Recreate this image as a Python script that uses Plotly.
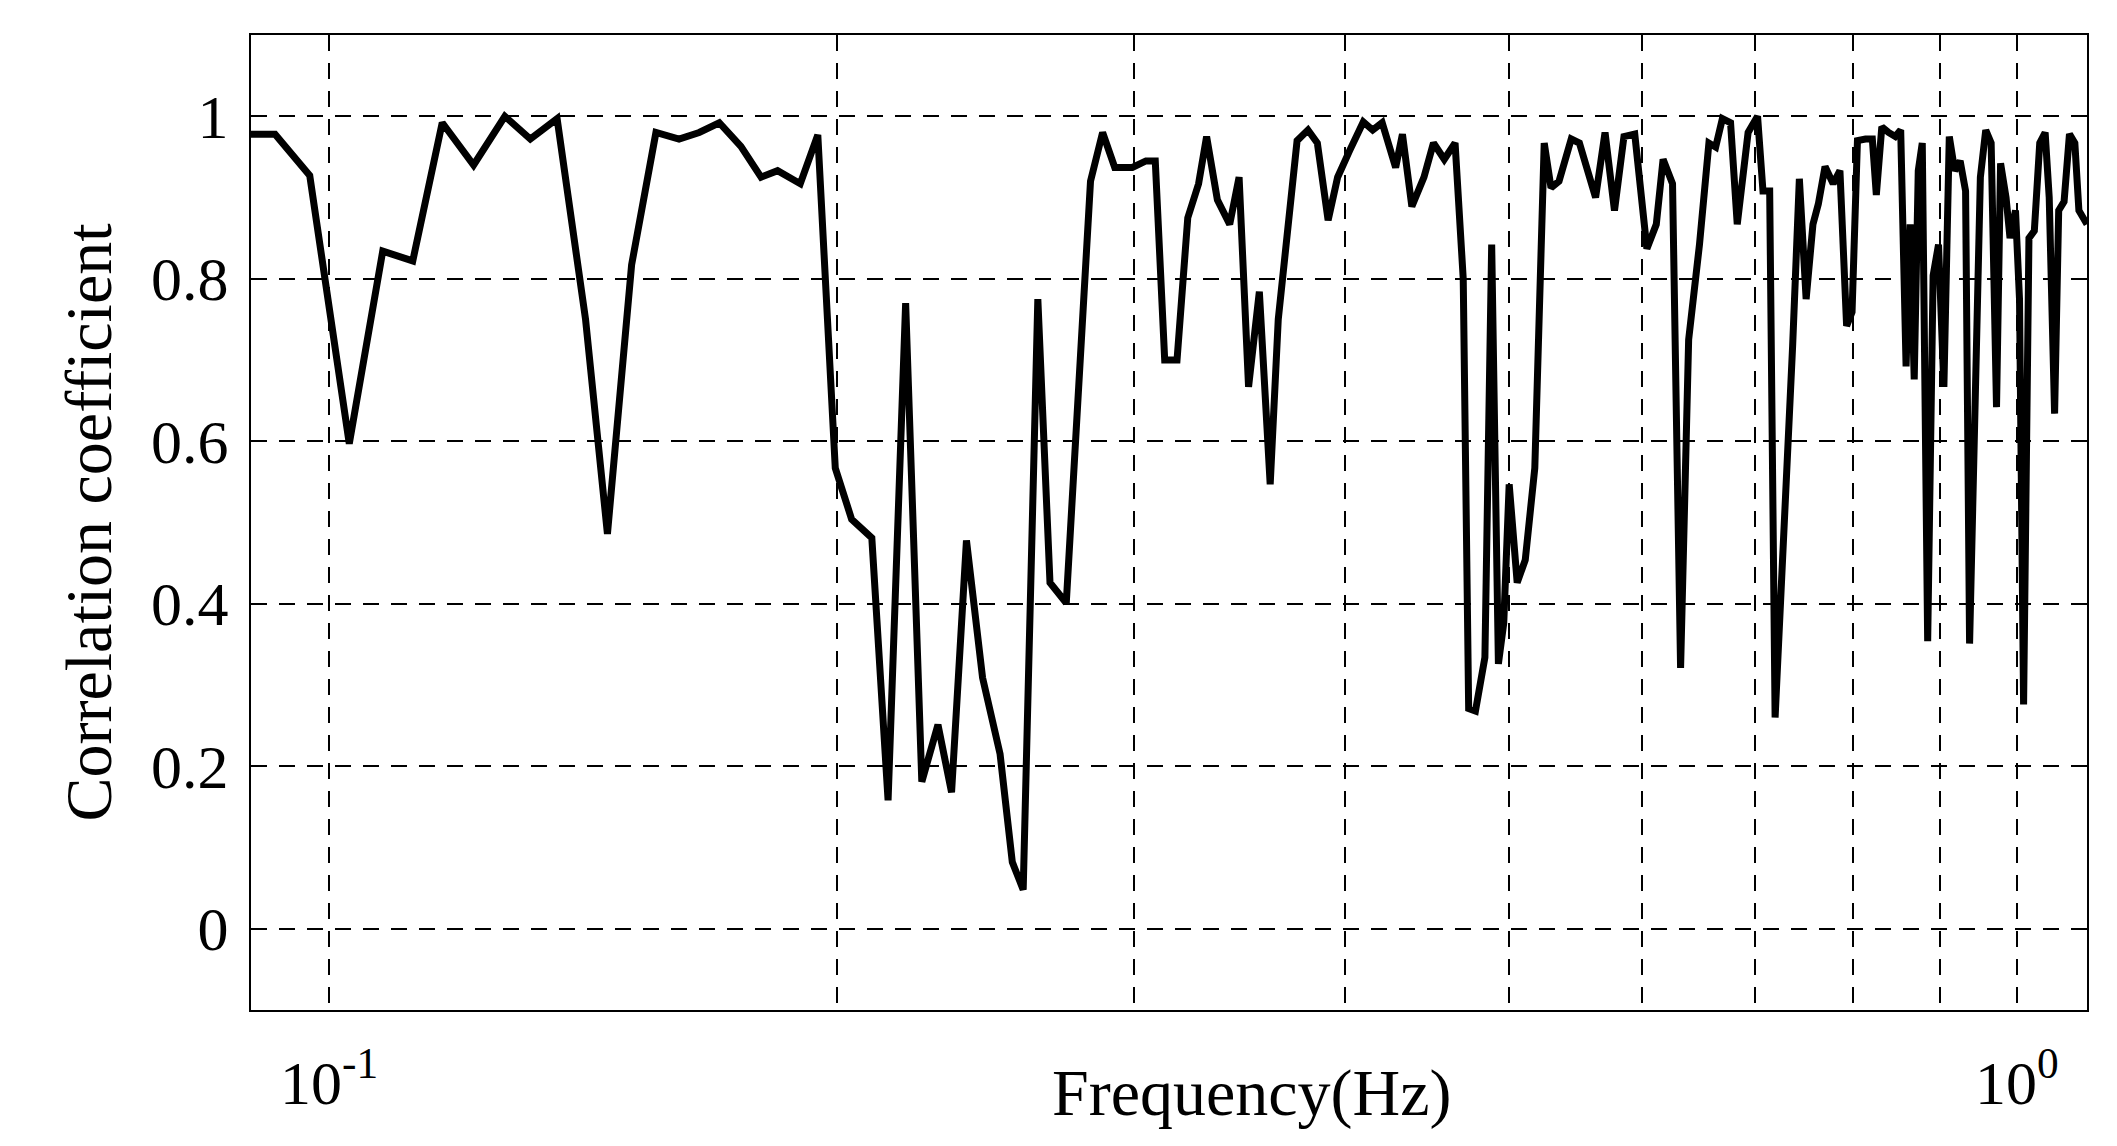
import plotly.graph_objects as go
import math

freq = [0.0899,0.0929,0.0974,0.1028,0.1076,0.1121,0.1167,0.1218,0.1271,0.1316,0.1365,0.1419,0.1462,0.1511,0.1562,0.1612,0.1657,0.1703,0.1754,0.1803,0.1844,0.1902,0.1948,0.1995,0.2040,0.2097,0.2144,0.2196,0.2245,0.2295,0.2338,0.2386,0.2439,0.2498,0.2540,0.2578,0.2630,0.2674,0.2734,0.2826,0.2873,0.2921,0.2992,0.3048,0.3087,0.3127,0.3180,0.3227,0.3275,0.3311,0.3360,0.3417,0.3461,0.3506,0.3558,0.3611,0.3651,0.3698,0.3746,0.3802,0.3851,0.3908,0.3959,0.4025,0.4100,0.4153,0.4207,0.4285,0.4325,0.4381,0.4454,0.4512,0.4579,0.4647,0.4699,0.4734,0.4778,0.4840,0.4885,0.4930,0.4966,0.5003,0.5058,0.5114,0.5181,0.5248,0.5297,0.5355,0.5445,0.5506,0.5629,0.5702,0.5776,0.5851,0.5938,0.6037,0.6115,0.6172,0.6252,0.6321,0.6391,0.6486,0.6570,0.6631,0.6692,0.6767,0.6829,0.6931,0.7021,0.7073,0.7138,0.7191,0.7298,0.7365,0.7433,0.7502,0.7572,0.7628,0.7698,0.7784,0.7856,0.7928,0.7987,0.8046,0.8135,0.8211,0.8256,0.8318,0.8395,0.8472,0.8535,0.8598,0.8646,0.8694,0.8742,0.8790,0.8855,0.8921,0.8987,0.9053,0.9120,0.9188,0.9256,0.9325,0.9376,0.9445,0.9515,0.9585,0.9656,0.9727,0.9781,0.9854,0.9908,0.9982,1.0037,1.0093,1.0167,1.0242,1.0318,1.0394,1.0452,1.0529,1.0588,1.0666,1.0745,1.0824,1.0884,1.1005]

corr = [0.978,0.978,0.927,0.597,0.834,0.822,0.992,0.940,1.0,0.972,0.997,0.750,0.486,0.817,0.980,0.972,0.980,0.992,0.963,0.925,0.933,0.917,0.977,0.567,0.504,0.481,0.158,0.770,0.181,0.251,0.168,0.478,0.309,0.215,0.082,0.048,0.775,0.426,0.401,0.920,0.980,0.937,0.937,0.945,0.945,0.700,0.700,0.875,0.917,0.975,0.897,0.867,0.925,0.667,0.784,0.547,0.750,0.859,0.970,0.983,0.967,0.872,0.925,0.958,0.993,0.983,0.992,0.937,0.978,0.889,0.925,0.967,0.947,0.967,0.800,0.271,0.268,0.334,0.842,0.326,0.376,0.547,0.426,0.454,0.567,0.967,0.912,0.920,0.972,0.967,0.900,0.980,0.884,0.975,0.978,0.837,0.867,0.947,0.917,0.321,0.725,0.842,0.967,0.962,0.997,0.992,0.867,0.980,1.0,0.908,0.908,0.260,0.534,0.717,0.923,0.775,0.867,0.892,0.938,0.917,0.933,0.742,0.759,0.970,0.972,0.972,0.903,0.987,0.980,0.975,0.983,0.692,0.867,0.676,0.933,0.967,0.354,0.804,0.842,0.667,0.975,0.933,0.945,0.908,0.351,0.684,0.925,0.983,0.967,0.642,0.942,0.900,0.850,0.884,0.775,0.276,0.850,0.859,0.967,0.980,0.900,0.634,0.884,0.895,0.978,0.967,0.884,0.867]

x_grid = [0.1,0.2,0.3,0.4,0.5,0.6,0.7,0.8,0.9,1.0]
x_labels = ["10<sup>-1</sup>","","","","","","","","","10<sup>0</sup>"]
y_ticks = [0,0.2,0.4,0.6,0.8,1]
y_labels = ["0","0.2","0.4","0.6","0.8","1"]

n = min(len(freq), len(corr))
fig = go.Figure(go.Scatter(x=freq[:n], y=corr[:n], mode="lines",
                           line=dict(color="black", width=7)))
font = "Liberation Serif, Times New Roman, serif"
dash = "16px,12px"
fig.update_layout(
    width=2117, height=1146, paper_bgcolor="white", plot_bgcolor="white",
    margin=dict(l=243, r=38, t=27, b=144), showlegend=False,
    font=dict(family=font, color="black", size=62),
    xaxis=dict(type="log", range=[math.log10(0.0899), math.log10(1.1005)],
               tickvals=x_grid, ticktext=x_labels, showgrid=True,
               gridcolor="black", griddash=dash, gridwidth=1.5,
               showline=True, linecolor="black", linewidth=2, mirror=True,
               ticks="", zeroline=False, tickfont=dict(size=62), ticklabelstandoff=18),
    yaxis=dict(range=[-0.1, 1.1], tickvals=y_ticks, ticktext=y_labels,
               showgrid=True, gridcolor="black", griddash=dash, gridwidth=1.5,
               showline=True, linecolor="black", linewidth=2, mirror=True,
               ticks="", zeroline=False, tickfont=dict(size=62), ticklabelstandoff=8,
               title=dict(text="Correlation coefficient", font=dict(size=66), standoff=18)),
    annotations=[dict(text="Frequency(Hz)", x=0.545, y=-0.045, xref="paper", yref="paper",
                      yanchor="top", showarrow=False, font=dict(size=66))],
)
fig.write_html("out.html")
